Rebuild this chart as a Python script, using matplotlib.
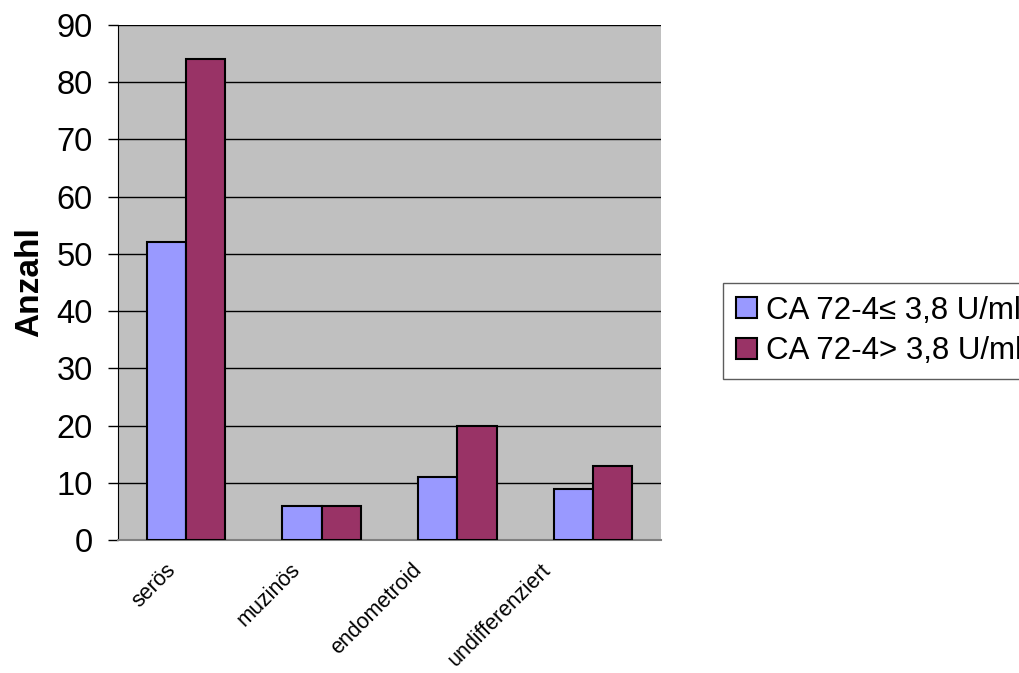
import numpy as np
import matplotlib
matplotlib.use("Agg")
from matplotlib import pyplot as plt
from matplotlib.transforms import ScaledTranslation

plt.rcParams['font.family'] = ['Liberation Sans', 'DejaVu Sans']

categories = ['serös', 'muzinös', 'endometroid', 'undifferenziert']
low_vals = [52, 6, 11, 9]     # CA 72-4 <= 3,8 U/ml
high_vals = [84, 6, 20, 13]   # CA 72-4 > 3,8 U/ml
series_names = ['CA 72-4≤ 3,8 U/ml', 'CA 72-4> 3,8 U/ml']
yticks = list(range(0, 91, 10))

fig = plt.figure(figsize=(10.2, 6.73), dpi=100)
ax = fig.add_axes([118/1020, 1 - 540/673, (661 - 118)/1020, (540 - 25)/673])
ax.set_facecolor('#C0C0C0')

x = np.arange(len(categories))
w = 0.29
ax.bar(x - w/2, low_vals, w, color='#9999FF', edgecolor='black', linewidth=1.5,
       label=series_names[0], zorder=3)
ax.bar(x + w/2, high_vals, w, color='#993366', edgecolor='black', linewidth=1.5,
       label=series_names[1], zorder=3)

ax.set_xlim(-0.5, len(categories) - 0.5)
ax.set_ylim(0, 90)
ax.set_yticks(yticks)
ax.yaxis.grid(True, color='black', linewidth=1)
ax.set_axisbelow(True)

for s in ['top', 'right']:
    ax.spines[s].set_visible(False)
ax.spines['left'].set_color('black')
ax.spines['bottom'].set_color('#808080')
ax.spines['bottom'].set_linewidth(1.5)

ax.tick_params(axis='y', labelsize=23.5, length=7, width=1, pad=11)
ax.tick_params(axis='x', length=0, pad=14)
ax.set_xticks(x)
ax.set_xticklabels(categories, fontsize=15.5, rotation=45, ha='right', va='top',
                   rotation_mode='anchor')

# longer labels sit further left of their category
fig.canvas.draw()
for lbl in ax.get_xticklabels():
    ext = lbl.get_window_extent().width
    dx = (7 - 0.54 * ext) / fig.dpi
    lbl.set_transform(lbl.get_transform() + ScaledTranslation(dx, 0, fig.dpi_scale_trans))

ax.set_ylabel('Anzahl', fontsize=24, fontweight='bold', labelpad=8)

leg = fig.legend(loc='upper left', bbox_to_anchor=(723/1020, 1 - 283/673),
                 fontsize=22.5, frameon=True, fancybox=False, edgecolor='#333333',
                 handlelength=0.68, handleheight=0.68, handletextpad=0.3,
                 borderpad=0.4, labelspacing=0.35, borderaxespad=0)
leg.get_frame().set_linewidth(1)

fig.savefig('out.png', dpi=100)
